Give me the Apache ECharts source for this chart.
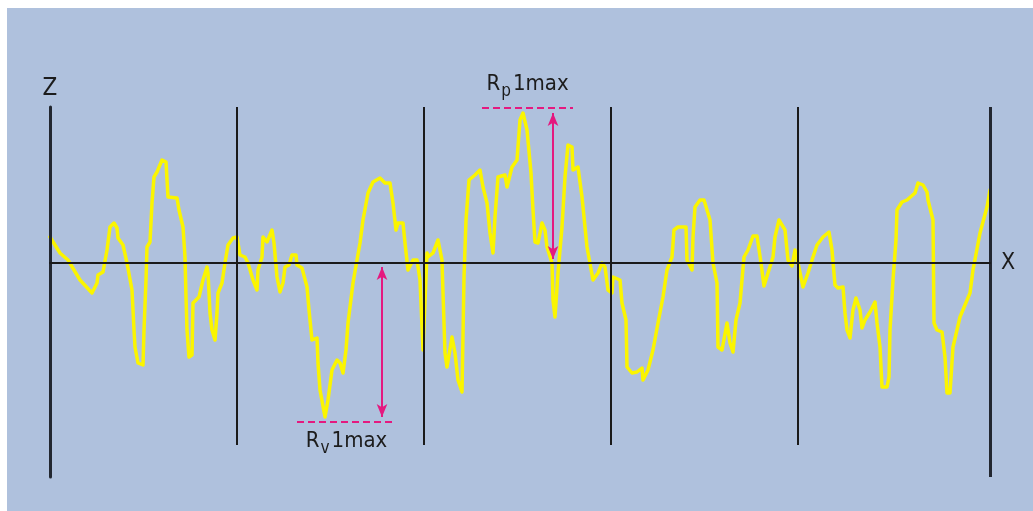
<!DOCTYPE html>
<html>
<head>
<meta charset="utf-8">
<script src="https://cdn.jsdelivr.net/npm/echarts@6/dist/echarts.min.js"></script>
<style>
  html, body { margin: 0; padding: 0; background: #ffffff; }
  #chart { position: absolute; left: 7px; top: 8px; width: 1026px; height: 503px; }
</style>
</head>
<body>
<div id="chart"></div>
<script>
// Surface roughness profile over five sampling lengths (x in µm, z in 0.1 µm)
const profileX = [
  0, 10, 18, 30, 42, 47, 48, 53, 57, 60, 64, 67, 68, 73, 77, 82, 84, 85, 88, 93,
  94, 96, 97, 100, 102, 104, 107, 112, 116, 118, 127, 129, 133, 135, 136, 137, 139, 142, 143, 145,
  149, 153, 157, 158, 160, 162, 165, 167, 168, 172, 175, 178, 183, 187,
  190, 195, 198, 203, 207, 208, 212, 213, 217, 222, 224, 227, 230, 233, 235, 239, 242, 246, 247, 252,
  257, 259, 262, 267, 268, 270, 275, 278, 282, 287, 290, 293, 296, 298, 303, 307, 310, 313, 318, 323,
  330, 335, 340, 343, 346, 348, 353, 355, 358, 363, 367, 370, 373, 377,
  378, 383, 388, 392, 393, 395, 397, 402, 405, 408, 412, 414, 416, 419, 425, 430, 433, 437, 440, 443,
  445, 448, 455, 457, 462, 467, 470, 473, 477, 481, 483, 485, 488, 492, 495, 497, 502, 503, 505, 508,
  512, 515, 518, 522, 523, 528, 532, 537, 543, 548, 552, 555, 558,
  562, 563, 570, 572, 576, 577, 582, 587, 592, 593, 598, 603, 608, 613, 617, 622, 624, 628, 636, 637,
  642, 643, 645, 650, 654, 660, 663, 667, 668, 672, 677, 680, 683, 686, 690, 694, 698, 703, 707, 711,
  714, 718, 723, 725, 729, 735, 738, 742, 745, 748,
  753, 758, 763, 767, 773, 779, 782, 785, 788, 793, 795, 797, 800, 803, 806, 810, 812, 815, 820, 825,
  827, 830, 832, 837, 839, 840, 843, 846, 847, 852, 857, 865, 868, 873, 877, 878, 883, 884, 887, 892,
  895, 897, 900, 903, 910, 920, 923, 930, 937, 940
];
const profileZ = [
  26, 10, 3, -17, -30, -20, -12, -9, 13, 36, 40, 35, 25, 18, 0, -27, -67, -84, -100, -102,
  -67, -17, 16, 21, 60, 86, 91, 103, 101, 66, 65, 53, 36, 6, -34, -67, -94, -92, -40, -39,
  -34, -17, -4, -10, -50, -67, -77, -50, -30, -20, 0, 18, 25, 26,
  8, 6, 0, -17, -27, -7, 6, 26, 21, 33, 20, -14, -29, -20, -4, -2, 8, 8, -2, -5,
  -24, -47, -77, -75, -100, -127, -154, -137, -107, -97, -100, -110, -87, -60, -20, 3, 20, 43, 70, 81,
  85, 80, 80, 60, 33, 40, 40, 20, -7, 3, 3, -17, -87, 10,
  6, 10, 23, 3, -30, -90, -104, -74, -90, -117, -129, -14, 43, 83, 88, 93, 76, 60, 30, 10,
  46, 86, 88, 76, 96, 103, 143, 150, 133, 90, 53, 21, 20, 40, 33, 16, 0, -37, -54, -10,
  36, 86, 118, 116, 93, 96, 66, 16, -17, -10, 0, -4, -27,
  -30, -14, -17, -40, -57, -104, -110, -109, -105, -117, -107, -87, -60, -34, -7, 6, 33, 36, 36, 3,
  -7, 26, 56, 63, 63, 43, 0, -20, -84, -87, -60, -80, -89, -57, -40, 6, 13, 27, 27, 0,
  -23, -10, 6, 26, 43, 33, 3, -3, 13, 0,
  -24, -10, 6, 18, 26, 31, 13, -22, -25, -24, -50, -67, -75, -47, -35, -47, -65, -57, -49, -39,
  -60, -84, -124, -124, -114, -67, -17, 23, 53, 61, 63, 70, 80, 78, 71, 63, 43, -60, -67, -69,
  -94, -130, -130, -84, -54, -30, -7, 30, 56, 73
];
// Boundaries between sampling lengths
const sectionBounds = [187, 374, 561, 748];
const xMax = 940;
const zMin = -214;
const zMax = 156;

// Annotation placement: horizontal extent of the reference lines and arrow x
const rpSpan = [432, 523];
const rvSpan = [247, 346];
const rpArrowX = 503;
const rvArrowX = 332;

const rp = Math.max(...profileZ);
const rv = Math.min(...profileZ);
const edgePad = 5;       // reference lines sit at the outer edge of the stroke
const arrowStart = 4;    // arrows start just clear of the mean line

const profile = profileX.map((x, i) => [x, profileZ[i]]);

const textColor = '#1c1c1c';
const lineColor = '#1a1a1a';
const accent = '#e4197f';
const fontFamily = "'DejaVu Sans Condensed', 'DejaVu Sans', sans-serif";

function subLabel(sub) {
  return {
    formatter: '{m|R}{s|' + sub + '}{m|1max}',
    rich: {
      m: { fontSize: 22, fontFamily, color: textColor, padding: [0, 0, 5, 0], verticalAlign: 'bottom' },
      s: { fontSize: 17, fontFamily, color: textColor, verticalAlign: 'bottom', padding: [0, 2, 0, 1] }
    }
  };
}

const chart = echarts.init(document.getElementById('chart'), null, { renderer: 'canvas' });

const sectionLines = sectionBounds.map(x => [
  { coord: [x, zMax] },
  { coord: [x, -182] }
]);
sectionLines.push([
  { coord: [xMax, zMax], lineStyle: { width: 3, color: '#222730' } },
  { coord: [xMax, zMin] }
]);

chart.setOption({
  backgroundColor: '#afc1dd',
  animation: false,
  grid: { left: 43, right: 43, top: 99, bottom: 34 },
  xAxis: {
    type: 'value',
    min: 0,
    max: xMax,
    z: 6,
    name: 'X',
    nameLocation: 'end',
    nameGap: 11,
    nameTextStyle: { fontSize: 23, fontFamily, color: textColor },
    axisLine: { onZero: true, lineStyle: { color: lineColor, width: 2 } },
    axisTick: { show: false },
    axisLabel: { show: false },
    splitLine: { show: false }
  },
  yAxis: {
    type: 'value',
    min: zMin,
    max: zMax,
    z: 6,
    name: 'Z',
    nameLocation: 'end',
    nameGap: 6,
    nameTextStyle: { fontSize: 24, fontFamily, color: textColor, align: 'center' },
    axisLine: { show: true, onZero: false, lineStyle: { color: '#222730', width: 3 } },
    axisTick: { show: false },
    axisLabel: { show: false },
    splitLine: { show: false }
  },
  series: [
    {
      name: 'profile',
      type: 'line',
      data: profile,
      z: 3,
      symbol: 'none',
      smooth: false,
      lineStyle: { color: '#fbf500', width: 3.5, join: 'round', cap: 'round' },
      silent: true
    },
    {
      name: 'sections',
      type: 'line',
      data: [],
      z: 5,
      markLine: {
        silent: true,
        symbol: ['none', 'none'],
        label: { show: false },
        lineStyle: { type: 'solid', color: lineColor, width: 2 },
        data: sectionLines
      }
    },
    {
      name: 'Rp',
      type: 'line',
      data: [],
      z: 7,
      markLine: {
        silent: true,
        symbol: ['none', 'none'],
        lineStyle: { type: [7, 4], color: accent, width: 2 },
        label: Object.assign({ show: true, position: 'insideMiddleTop', distance: 8 }, subLabel('p')),
        data: [[{ coord: [rpSpan[0], rp + edgePad] }, { coord: [rpSpan[1], rp + edgePad] }]]
      }
    },
    {
      name: 'Rp arrow',
      type: 'line',
      data: [],
      z: 7,
      markLine: {
        silent: true,
        symbol: ['arrow', 'arrow'],
        symbolSize: [8, 13],
        label: { show: false },
        lineStyle: { type: 'solid', color: accent, width: 2 },
        data: [[{ coord: [rpArrowX, arrowStart] }, { coord: [rpArrowX, rp] }]]
      }
    },
    {
      name: 'Rv',
      type: 'line',
      data: [],
      z: 7,
      markLine: {
        silent: true,
        symbol: ['none', 'none'],
        lineStyle: { type: [7, 4], color: accent, width: 2 },
        label: Object.assign({ show: true, position: 'insideMiddleBottom', distance: 8 }, subLabel('v')),
        data: [[{ coord: [rvSpan[0], rv - edgePad] }, { coord: [rvSpan[1], rv - edgePad] }]]
      }
    },
    {
      name: 'Rv arrow',
      type: 'line',
      data: [],
      z: 7,
      markLine: {
        silent: true,
        symbol: ['arrow', 'arrow'],
        symbolSize: [8, 13],
        label: { show: false },
        lineStyle: { type: 'solid', color: accent, width: 2 },
        data: [[{ coord: [rvArrowX, -arrowStart] }, { coord: [rvArrowX, rv] }]]
      }
    }
  ]
});
</script>
</body>
</html>
